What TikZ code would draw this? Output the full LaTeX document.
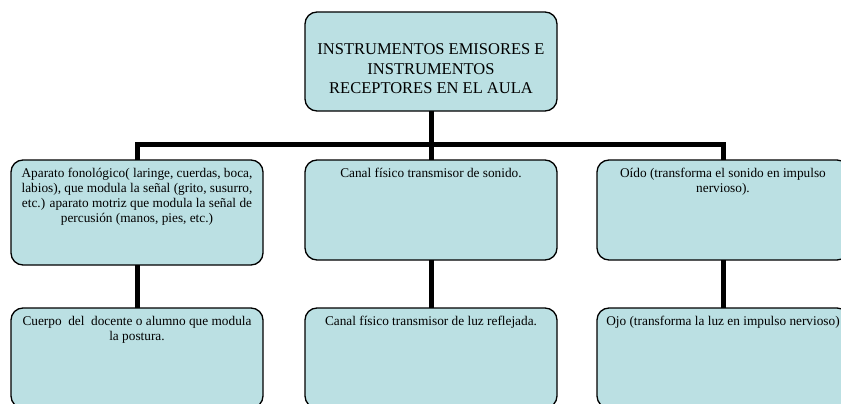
\documentclass[tikz,border=0pt]{standalone}
\usepackage{fontspec}
\setmainfont{Liberation Serif}
\definecolor{boxfill}{RGB}{187,224,227}
\tikzset{
  x=1pt, y=-1pt,
  box/.style={draw=black, line width=1.3pt, fill=boxfill, rounded corners=12pt,
    inner sep=0pt, outer sep=0pt, align=center},
  conn/.style={draw=black, line width=5pt}
}
\newcommand{\smalltxt}{\fontsize{13.3}{15}\selectfont}
\newcommand{\boxtext}[3]{\parbox[c][#2pt][t]{#1pt}{\centering\smalltxt\vspace{8.5pt}#3\par}}
\begin{document}
\begin{tikzpicture}
\useasboundingbox (0,0) rectangle (841,404);
% title
\node[box] (top) at (431,61.5) {\parbox[c][99pt][t]{252pt}{\centering\fontsize{16.5}{19.3}\selectfont\vspace{32pt}INSTRUMENTOS EMISORES E\\INSTRUMENTOS\\RECEPTORES EN EL AULA\par}};
% upper row
\node[box] (b1) at (137,212.5) {\boxtext{252}{105}{Aparato fonológico( laringe, cuerdas, boca,\\labios), que modula la señal (grito, susurro,\\etc.) aparato motriz que modula la señal de\\percusión (manos, pies, etc.)}};
\node[box] (b2) at (431,210) {\boxtext{252}{100}{Canal físico transmisor de sonido.}};
\node[box] (b3) at (723,210) {\boxtext{252}{100}{Oído (transforma el sonido en impulso\\nervioso).}};
% lower row
\node[box] (b4) at (137,358) {\boxtext{252}{100}{Cuerpo\ \ del\ \ docente o alumno que modula\\la postura.}};
\node[box] (b5) at (431,358) {\boxtext{252}{100}{Canal físico transmisor de luz reflejada.}};
\node[box] (b6) at (723,358) {\boxtext{252}{100}{Ojo (transforma la luz en impulso nervioso)}};
% connectors
\coordinate (hub) at (431,144);
\draw[conn] (top.south) -- (hub);
\draw[conn] (b1.north) -- (b1.north |- hub) -- (b3.north |- hub) -- (b3.north);
\draw[conn] (hub) -- (b2.north);
\draw[conn] (b1.south) -- (b4.north);
\draw[conn] (b2.south) -- (b5.north);
\draw[conn] (b3.south) -- (b6.north);
\end{tikzpicture}
\end{document}
